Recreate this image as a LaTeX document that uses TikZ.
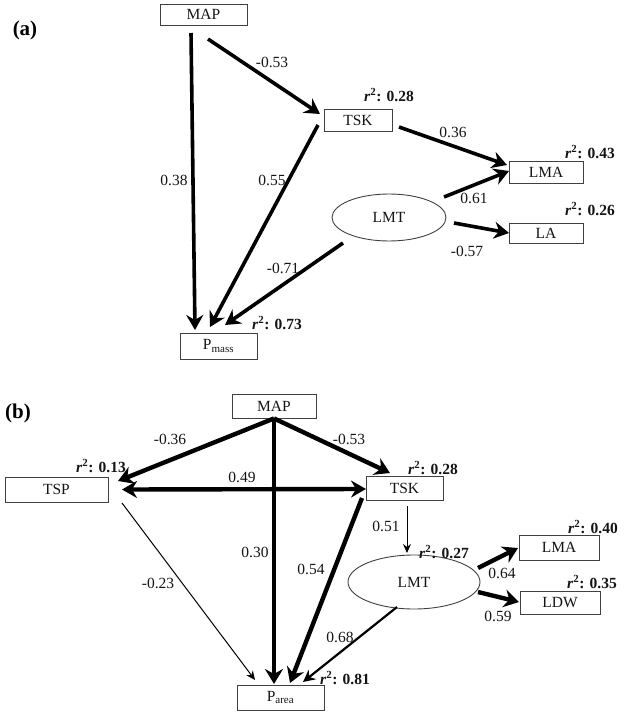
\documentclass[tikz,border=0pt]{standalone}
\usepackage{fontspec}
\setmainfont{Liberation Serif}
\usetikzlibrary{arrows.meta,shapes.geometric}
\newcommand{\rsqr}[1]{\textbf{\textit{r}\textsuperscript{2}: #1}}
\begin{document}
\begin{tikzpicture}[x=1pt,y=-1pt,
  txt/.style={font=\fontsize{15.5}{18}\selectfont, text=black!92},
  box/.style={txt, draw=black!75, line width=0.9pt, rectangle, inner sep=0pt},
  oval/.style={txt, draw=black!75, line width=0.9pt, ellipse, inner sep=0pt},
  lbl/.style={txt, inner sep=0pt},
  rsq/.style={txt, inner sep=0pt},
  panel/.style={font=\fontsize{21}{24}\selectfont\bfseries, inner sep=0pt},
  thka/.style={line width=3.6pt, -{Stealth[length=15pt,width=17pt,inset=5pt]}},
  thkb/.style={line width=4.4pt, -{Stealth[length=15pt,width=18pt,inset=5pt]}},
  dbl/.style={line width=4.4pt, {Stealth[length=15pt,width=17pt,inset=5pt]}-{Stealth[length=15pt,width=17pt,inset=5pt]}},
  med/.style={line width=2.2pt, -{Stealth[length=12pt,width=12pt,inset=4pt]}},
  thn/.style={line width=1pt, -{Stealth[length=9pt,width=8pt,inset=3pt]}},
]
\useasboundingbox (0,0) rectangle (625,714);

% ---------------- panel (a)
\node[panel] (pa) at (25,30) {(a)};
\node[box, minimum width=87pt, minimum height=21pt] (mapa) at (203.5,14.5) {MAP};
\node[box, minimum width=68pt, minimum height=22pt] (tska) at (358,120) {TSK};
\node[box, minimum width=74pt, minimum height=22pt] (lmaa) at (546,172) {LMA};
\node[box, minimum width=74pt, minimum height=20pt] (laa) at (546,233) {LA};
\node[oval, minimum width=114pt, minimum height=47pt] (lmta) at (389,217.5) {LMT};
\node[box, minimum width=77pt, minimum height=26pt] (pmass) at (218.5,346) {P\textsubscript{\fontsize{11}{12}\selectfont mass}};

\node[rsq] (ra1) at (389,95) {\rsqr{0.28}};
\node[rsq] (ra2) at (590,152) {\rsqr{0.43}};
\node[rsq] (ra3) at (590,209) {\rsqr{0.26}};
\node[rsq] (ra4) at (277,323) {\rsqr{0.73}};

\draw[thka] ([shift={(-12.5,18.5)}]mapa.center) -- ([shift={(-23.5,-16)}]pmass.center);
\draw[thka] ([shift={(4.5,24.5)}]mapa.center) -- ([shift={(-38,-6)}]tska.center);
\draw[thka] ([shift={(-40,5)}]tska.center) -- ([shift={(-8.5,-19)}]pmass.center);
\draw[thka] ([shift={(-46,25.5)}]lmta.center) -- ([shift={(6.5,-21)}]pmass.center);
\draw[thka] ([shift={(41,7)}]tska.center) -- ([shift={(-39,-7)}]lmaa.center);
\draw[thka] ([shift={(55,-20.5)}]lmta.center) -- ([shift={(-37,-1)}]lmaa.center);
\draw[thka] ([shift={(65,5.5)}]lmta.center) -- ([shift={(-37,0)}]laa.center);

\node[lbl] (la1) at (174,180) {0.38};
\node[lbl] (la2) at (272,62) {-0.53};
\node[lbl] (la3) at (272,180) {0.55};
\node[lbl] (la4) at (283,268) {-0.71};
\node[lbl] (la5) at (453,132) {0.36};
\node[lbl] (la6) at (474,198) {0.61};
\node[lbl] (la7) at (467,251) {-0.57};

% ---------------- panel (b)
\node[panel] (pb) at (18,413) {(b)};
\node[box, minimum width=84pt, minimum height=24pt] (mapb) at (274,406) {MAP};
\node[box, minimum width=103pt, minimum height=25pt] (tsp) at (56.5,489.5) {TSP};
\node[box, minimum width=77pt, minimum height=24pt] (tskb) at (404.5,488) {TSK};
\node[box, minimum width=80pt, minimum height=25pt] (lmab) at (559,547.5) {LMA};
\node[box, minimum width=80pt, minimum height=23pt] (ldw) at (560,602.5) {LDW};
\node[oval, minimum width=132pt, minimum height=54pt] (lmtb) at (414,582) {LMT};
\node[box, minimum width=87pt, minimum height=25pt] (parea) at (280.5,697.5) {P\textsubscript{\fontsize{11}{12}\selectfont area}};

\node[rsq] (rb1) at (101,466) {\rsqr{0.13}};
\node[rsq] (rb2) at (433,468) {\rsqr{0.28}};
\node[rsq] (rb3) at (593,527) {\rsqr{0.40}};
\node[rsq] (rb4) at (592,582) {\rsqr{0.35}};
\node[rsq] (rb5) at (444,552) {\rsqr{0.27}};
\node[rsq] (rb6) at (345,678) {\rsqr{0.81}};

\draw[thkb] (mapb.south) -- ([shift={(61.5,-8.5)}]tsp.center);
\draw[thkb] (mapb.south) -- ([shift={(-14.5,-15)}]tskb.center);
\draw[dbl] ([shift={(65.5,0)}]tsp.center) -- ([shift={(-38.5,1)}]tskb.center);
\draw[thkb] (mapb.south) -- ([shift={(-6.5,-13.5)}]parea.center);
\draw[thkb] ([shift={(-42.5,10)}]tskb.center) -- ([shift={(9.5,-14.5)}]parea.center);
\draw[thn] ([shift={(65.5,13.5)}]tsp.center) -- ([shift={(-25.5,-17.5)}]parea.center);
\draw[thn] ([shift={(2.5,18)}]tskb.center) -- ([shift={(-7,-29)}]lmtb.center);
\draw[med] ([shift={(-17,25)}]lmtb.center) -- ([shift={(22.5,-15.5)}]parea.center);
\draw[thkb] ([shift={(64,-14)}]lmtb.center) -- ([shift={(-41,0.5)}]lmab.center);
\draw[thkb] ([shift={(64,10)}]lmtb.center) -- ([shift={(-41,-0.5)}]ldw.center);

\node[lbl] (lb1) at (170,439) {-0.36};
\node[lbl] (lb2) at (349,439) {-0.53};
\node[lbl] (lb3) at (242,477) {0.49};
\node[lbl] (lb4) at (255,552) {0.30};
\node[lbl] (lb5) at (311,569) {0.54};
\node[lbl] (lb6) at (158,583) {-0.23};
\node[lbl] (lb7) at (386,526) {0.51};
\node[lbl] (lb8) at (340,637) {0.68};
\node[lbl] (lb9) at (502,573) {0.64};
\node[lbl] (lb10) at (498,616) {0.59};
\end{tikzpicture}
\end{document}
